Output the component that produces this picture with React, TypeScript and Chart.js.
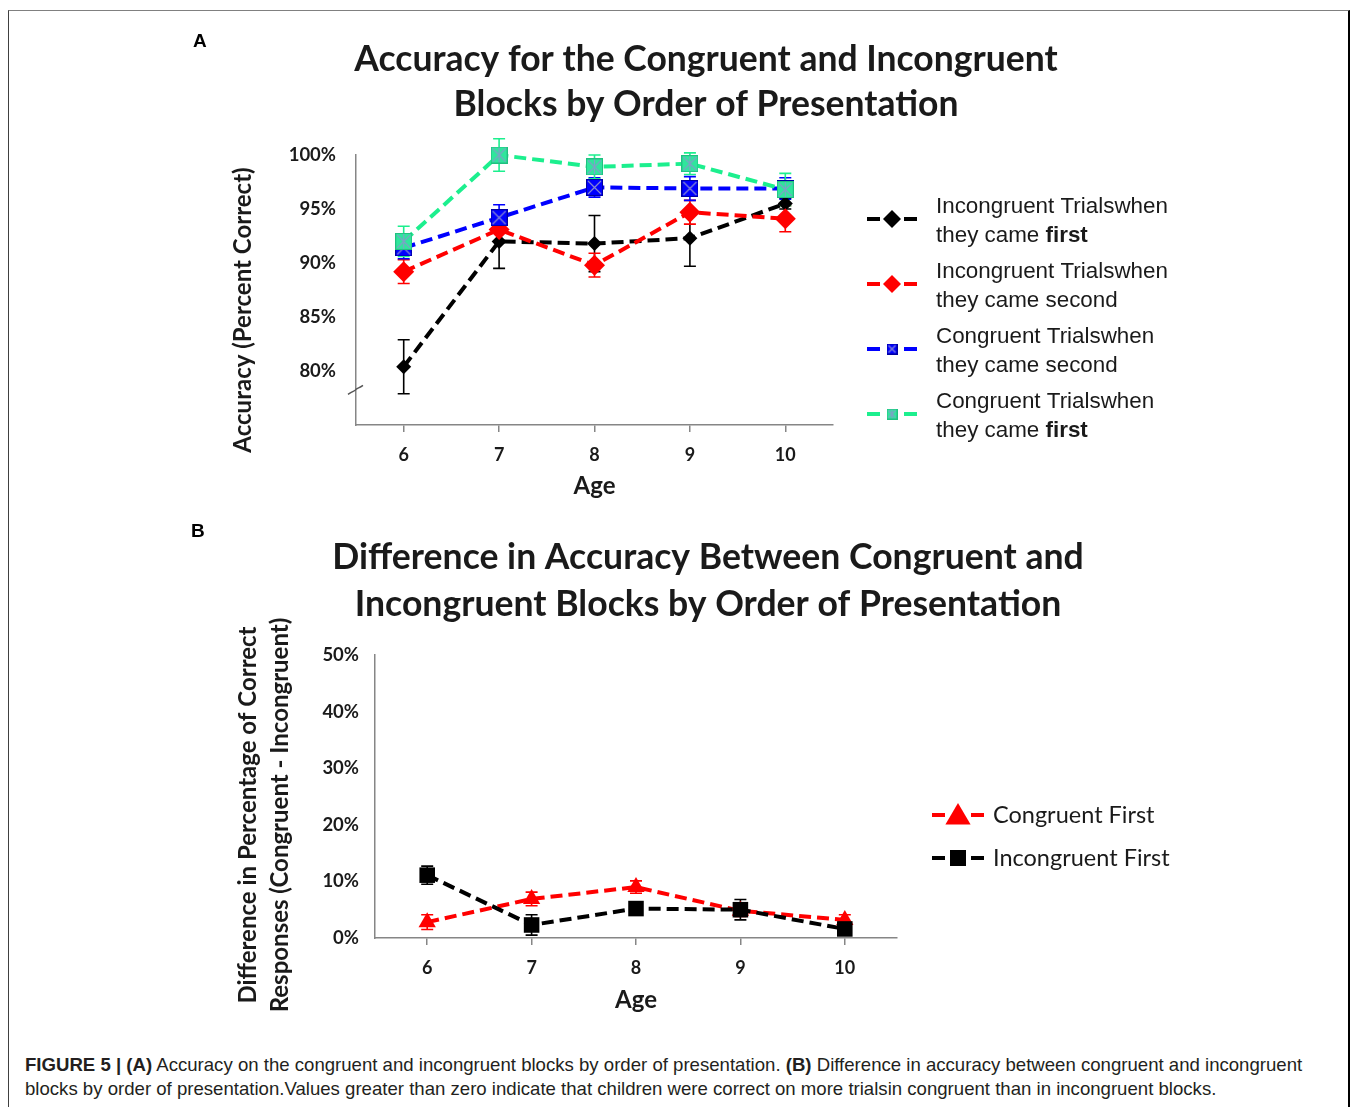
import React, { useEffect, useRef } from 'react';
import { Chart, registerables } from 'chart.js';

Chart.register(...registerables);

// ---------- Data ----------
const ages = ['6', '7', '8', '9', '10'];

// Panel A: accuracy (%)
const incongruentFirst = [80.4, 92.0, 91.8, 92.3, 95.5];
const incongruentFirstErr = [2.5, 2.5, 2.6, 2.6, 0.5];
const incongruentSecond = [89.2, 93.1, 89.8, 94.7, 94.1];
const incongruentSecondErr = [1.1, 1.1, 1.1, 1.1, 1.2];
const congruentSecond = [91.4, 94.2, 97.0, 96.9, 96.9];
const congruentSecondErr = [1.0, 1.2, 0.9, 1.1, 1.0];
const congruentFirst = [92.0, 100.0, 98.9, 99.2, 96.8];
const congruentFirstErr = [1.4, 1.5, 1.1, 1.0, 1.5];
const accuracyMin = 75;
const accuracyMax = 100;
const accuracyStep = 5;
const accuracyFirstLabel = 80;
const accuracyBreakAt = 78.3;

// Panel B: difference (%)
const diffCongruentFirst = [2.8, 6.9, 9.0, 4.8, 3.2];
const diffCongruentFirstErr = [1.3, 1.2, 1.1, 1.0, 0.9];
const diffIncongruentFirst = [11.1, 2.3, 5.2, 5.0, 1.6];
const diffIncongruentFirstErr = [1.6, 1.8, 1.0, 1.8, 1.0];
const diffMin = 0;
const diffMax = 50;
const diffStep = 10;

// Text
const titleA = ['Accuracy for the Congruent and Incongruent', 'Blocks by Order of Presentation'];
const titleB = ['Difference in Accuracy Between Congruent and', 'Incongruent Blocks by Order of Presentation'];
const yTitleA = ['Accuracy (Percent Correct)'];
const yTitleB = ['Difference in Percentage of Correct', 'Responses (Congruent - Incongruent)'];
const xTitle = 'Age';
const legendA = [
  [[{ t: 'Incongruent Trialswhen' }], [{ t: 'they came ' }, { t: 'first', b: true }]],
  [[{ t: 'Incongruent Trialswhen' }], [{ t: 'they came second' }]],
  [[{ t: 'Congruent Trialswhen' }], [{ t: 'they came second' }]],
  [[{ t: 'Congruent Trialswhen' }], [{ t: 'they came ' }, { t: 'first', b: true }]],
];
const legendB = [
  [[{ t: 'Congruent First' }]],
  [[{ t: 'Incongruent First' }]],
];

// ---------- Styles ----------
const BLACK = '#000000';
const RED = '#ff0000';
const BLUE = '#0000ff';
const GREEN = '#1cef8e';
const GREEN_FILL = '#2fe69c';
const AXIS = '#868686';
const TEXT = '#1a1a1a';
const CAL = 'Lato, "Open Sans", sans-serif';

function makeBoxMarker(size: number, fill: string, edge: string, cross: string, star: boolean) {
  const c = document.createElement('canvas');
  c.width = size;
  c.height = size;
  const g = c.getContext('2d')!;
  g.fillStyle = fill;
  g.fillRect(0, 0, size, size);
  g.strokeStyle = edge;
  g.lineWidth = 1;
  g.strokeRect(0.5, 0.5, size - 1, size - 1);
  g.strokeStyle = cross;
  g.lineWidth = 1.2;
  g.beginPath();
  g.moveTo(2, 2);
  g.lineTo(size - 2, size - 2);
  g.moveTo(size - 2, 2);
  g.lineTo(2, size - 2);
  if (star) {
    g.moveTo(size / 2, 1);
    g.lineTo(size / 2, size - 1);
  }
  g.stroke();
  return c;
}

// ---------- Plugins ----------
const errorBars = {
  id: 'errorBars',
  beforeDatasetsDraw(chart: any) {
    const ctx = chart.ctx;
    chart.data.datasets.forEach((ds: any, i: number) => {
      if (!ds.errors) return;
      const meta = chart.getDatasetMeta(i);
      const ys = chart.scales[meta.yAxisID];
      ctx.save();
      ctx.strokeStyle = ds.errorColor || ds.borderColor;
      ctx.lineWidth = 1.6;
      meta.data.forEach((pt: any, j: number) => {
        const v = ds.data[j];
        const e = ds.errors[j];
        const yt = ys.getPixelForValue(v + e);
        const yb = ys.getPixelForValue(v - e);
        const cap = ds.errorCap || 6;
        ctx.beginPath();
        ctx.moveTo(pt.x, yt);
        ctx.lineTo(pt.x, yb);
        ctx.moveTo(pt.x - cap, yt);
        ctx.lineTo(pt.x + cap, yt);
        ctx.moveTo(pt.x - cap, yb);
        ctx.lineTo(pt.x + cap, yb);
        ctx.stroke();
      });
      ctx.restore();
    });
  },
};

function drawMarker(ctx: CanvasRenderingContext2D, kind: any, x: number, y: number, r: number, color: string) {
  ctx.save();
  ctx.fillStyle = color;
  if (typeof kind !== 'string') {
    ctx.drawImage(kind, x - kind.width / 2, y - kind.height / 2);
  } else if (kind === 'diamond') {
    ctx.beginPath();
    ctx.moveTo(x, y - r);
    ctx.lineTo(x + r, y);
    ctx.lineTo(x, y + r);
    ctx.lineTo(x - r, y);
    ctx.closePath();
    ctx.fill();
  } else if (kind === 'triangle') {
    ctx.beginPath();
    ctx.moveTo(x, y - r);
    ctx.lineTo(x + r * 1.05, y + r * 0.8);
    ctx.lineTo(x - r * 1.05, y + r * 0.8);
    ctx.closePath();
    ctx.fill();
  } else if (kind === 'square') {
    ctx.fillRect(x - r, y - r, 2 * r, 2 * r);
  }
  ctx.restore();
}

const figureLegend = {
  id: 'figureLegend',
  afterDraw(chart: any, _a: any, opts: any) {
    if (!opts || !opts.items) return;
    const { ctx, chartArea } = chart;
    opts.items.forEach((item: any, k: number) => {
      const ds = chart.data.datasets[item.dataset];
      const cx = chartArea.right + opts.markerDx;
      const cy = chartArea.top + opts.rowY[k];
      ctx.save();
      ctx.strokeStyle = ds.borderColor;
      ctx.lineWidth = ds.borderWidth;
      ctx.beginPath();
      ctx.moveTo(cx - opts.segOuter, cy);
      ctx.lineTo(cx - opts.segInner, cy);
      ctx.moveTo(cx + opts.segInner, cy);
      ctx.lineTo(cx + opts.segOuter, cy);
      ctx.stroke();
      ctx.restore();
      drawMarker(ctx, item.marker, cx, cy, item.r, item.color);
      const lines = item.lines;
      const n = lines.length;
      lines.forEach((segs: any[], li: number) => {
        const ly = cy + (li - (n - 1) / 2) * opts.lineGap + opts.textDy;
        let x = chartArea.right + opts.textDx;
        segs.forEach((s: any) => {
          ctx.save();
          ctx.font = `${s.b ? 'bold ' : ''}${opts.fontSize}px ${opts.family}`;
          ctx.fillStyle = TEXT;
          ctx.textBaseline = 'middle';
          ctx.textAlign = 'left';
          ctx.fillText(s.t, x, ly);
          x += ctx.measureText(s.t).width;
          ctx.restore();
        });
      });
    });
  },
};

const yTitlePlugin = {
  id: 'yTitle',
  afterDraw(chart: any, _a: any, opts: any) {
    if (!opts || !opts.lines) return;
    const ctx = chart.ctx;
    ctx.save();
    ctx.translate(opts.x, opts.y);
    ctx.rotate(-Math.PI / 2);
    ctx.font = `bold ${opts.size}px ${CAL}`;
    ctx.fillStyle = TEXT;
    ctx.textAlign = 'center';
    ctx.textBaseline = 'middle';
    opts.lines.forEach((l: string, i: number) => ctx.fillText(l, 0, i * opts.gap));
    ctx.restore();
  },
};

const axisBreak = {
  id: 'axisBreak',
  afterDraw(chart: any, _a: any, opts: any) {
    if (!opts || opts.value == null) return;
    const ctx = chart.ctx;
    const x = chart.chartArea.left;
    const y = chart.scales.y.getPixelForValue(opts.value);
    ctx.save();
    ctx.strokeStyle = '#555';
    ctx.lineWidth = 1.4;
    ctx.beginPath();
    ctx.moveTo(x - 8, y + 5);
    ctx.bezierCurveTo(x - 3, y + 1, x - 1, y + 2, x, y);
    ctx.bezierCurveTo(x + 2, y - 2, x + 3, y - 1, x + 7, y - 4);
    ctx.stroke();
    ctx.restore();
  },
};

function baseLine(label: string, data: number[], errs: number[], color: string, extra: any) {
  return {
    label,
    data,
    errors: errs,
    errorColor: color,
    borderColor: color,
    backgroundColor: color,
    borderWidth: 4,
    borderDash: [12, 6],
    pointBackgroundColor: color,
    pointBorderColor: color,
    pointBorderWidth: 0,
    pointHoverRadius: 0,
    tension: 0,
    clip: false,
    ...extra,
  };
}

function xScale(height: number, titleBottom: number, pad: number) {
  return {
    type: 'category',
    offset: true,
    grid: { display: true, drawOnChartArea: false, drawTicks: true, tickLength: 7, color: AXIS, lineWidth: 1.5, offset: false },
    border: { display: true, color: AXIS, width: 1.5 },
    ticks: { padding: pad, color: TEXT, font: { family: CAL, size: 18, weight: 'bold' } },
    title: { display: true, text: xTitle, color: TEXT, font: { family: CAL, size: 24, weight: 'bold' }, padding: { top: 0, bottom: titleBottom } },
    afterFit: (s: any) => { s.height = height; },
  };
}

function rightSpacer(width: number) {
  return {
    type: 'linear',
    position: 'right',
    display: true,
    grid: { display: false },
    border: { display: false },
    ticks: { display: false },
    afterFit: (s: any) => { s.width = width; },
  };
}

export default function App() {
  const refA = useRef<HTMLCanvasElement>(null);
  const refB = useRef<HTMLCanvasElement>(null);

  useEffect(() => {
    const blueBox = makeBoxMarker(17, BLUE, '#0000a0', '#8a8ad0', false);
    const greenBox = makeBoxMarker(17, GREEN_FILL, '#20c080', '#7fa0c8', true);
    const blueBoxSmall = makeBoxMarker(11, BLUE, '#0000a0', '#8a8ad0', false);
    const greenBoxSmall = makeBoxMarker(11, GREEN_FILL, '#20c080', '#7fa0c8', true);

    const chartA = new Chart(refA.current!, {
      type: 'line',
      data: {
        labels: ages,
        datasets: [
          baseLine('Incongruent Trials when they came first', incongruentFirst, incongruentFirstErr, BLACK, { pointStyle: 'rectRot', pointRadius: 7.5, order: 4 }),
          baseLine('Incongruent Trials when they came second', incongruentSecond, incongruentSecondErr, RED, { pointStyle: 'rectRot', pointRadius: 10.5, order: 3 }),
          baseLine('Congruent Trials when they came second', congruentSecond, congruentSecondErr, BLUE, { pointStyle: blueBox, pointRadius: 8, order: 2 }),
          baseLine('Congruent Trials when they came first', congruentFirst, congruentFirstErr, GREEN, { pointStyle: greenBox, pointRadius: 8, order: 1 }),
        ] as any,
      },
      options: {
        responsive: false,
        animation: false,
        devicePixelRatio: 1,
        layout: { padding: 0 },
        scales: {
          x: xScale(85, 9, 12) as any,
          y: {
            min: accuracyMin,
            max: accuracyMax,
            grid: { display: false },
            border: { display: true, color: AXIS, width: 1.5 },
            ticks: {
              stepSize: accuracyStep,
              padding: 12,
              color: TEXT,
              font: { family: CAL, size: 18.5, weight: 'bold' },
              callback: (v: any) => (v >= accuracyFirstLabel ? `${v}%` : ''),
            },
            afterFit: (s: any) => { s.width = 176; },
          } as any,
          pad: rightSpacer(399) as any,
        },
        plugins: {
          legend: { display: false },
          tooltip: { enabled: false },
          title: {
            display: true,
            text: titleA,
            color: TEXT,
            font: { family: CAL, size: 35.5, weight: 'bold', lineHeight: 45 / 35.5 },
            padding: { top: 17.5, bottom: 27.5 },
          },
          yTitle: { lines: yTitleA, x: 63, y: 310 - 20, size: 24, gap: 32 },
          axisBreak: { value: accuracyBreakAt },
          figureLegend: {
            markerDx: 59,
            segOuter: 25,
            segInner: 12,
            textDx: 103,
            textDy: 2,
            lineGap: 29,
            fontSize: 22.4,
            family: '"Liberation Sans", Arial, sans-serif',
            rowY: [64, 129, 194, 259],
            items: [
              { dataset: 0, marker: 'diamond', r: 9, color: BLACK, lines: legendA[0] },
              { dataset: 1, marker: 'diamond', r: 9, color: RED, lines: legendA[1] },
              { dataset: 2, marker: blueBoxSmall, r: 6, color: BLUE, lines: legendA[2] },
              { dataset: 3, marker: greenBoxSmall, r: 6, color: GREEN, lines: legendA[3] },
            ],
          },
        } as any,
      },
      plugins: [errorBars, yTitlePlugin, axisBreak, figureLegend],
    } as any);

    const chartB = new Chart(refB.current!, {
      type: 'line',
      data: {
        labels: ages,
        datasets: [
          baseLine('Congruent First', diffCongruentFirst, diffCongruentFirstErr, RED, { pointStyle: 'triangle', pointRadius: 10, order: 2 }),
          baseLine('Incongruent First', diffIncongruentFirst, diffIncongruentFirstErr, BLACK, { pointStyle: 'rect', pointRadius: 11, order: 1 }),
        ] as any,
      },
      options: {
        responsive: false,
        animation: false,
        devicePixelRatio: 1,
        layout: { padding: 0 },
        scales: {
          x: xScale(102, 25, 12) as any,
          y: {
            min: diffMin,
            max: diffMax,
            grid: { display: false },
            border: { display: true, color: AXIS, width: 1.5 },
            ticks: {
              stepSize: diffStep,
              padding: 8,
              color: TEXT,
              font: { family: CAL, size: 18.5, weight: 'bold' },
              callback: (v: any) => `${v}%`,
            },
            afterFit: (s: any) => { s.width = 195; },
          } as any,
          pad: rightSpacer(339) as any,
        },
        plugins: {
          legend: { display: false },
          tooltip: { enabled: false },
          title: {
            display: true,
            text: titleB,
            color: TEXT,
            font: { family: CAL, size: 35.6, weight: 'bold', lineHeight: 47 / 35.6 },
            padding: { top: 19.5, bottom: 26.5 },
          },
          yTitle: { lines: yTitleB, x: 68, y: 300, size: 24, gap: 32 },
          figureLegend: {
            markerDx: 61,
            segOuter: 26,
            segInner: 13,
            textDx: 96,
            textDy: 0,
            lineGap: 0,
            fontSize: 23.5,
            family: CAL,
            rowY: [160, 203],
            items: [
              { dataset: 0, marker: 'triangle', r: 12, color: RED, lines: legendB[0] },
              { dataset: 1, marker: 'square', r: 8, color: BLACK, lines: legendB[1] },
            ],
          },
        } as any,
      },
      plugins: [errorBars, yTitlePlugin, figureLegend],
    } as any);

    return () => {
      chartA.destroy();
      chartB.destroy();
    };
  }, []);

  // figure box origin in page coords: left 8 + 1px border, top 10 + 1px border
  const ox = 9;
  const oy = 11;
  return (
    <div
      style={{
        position: 'fixed',
        left: 8,
        top: 10,
        width: 1342,
        height: 1120,
        boxSizing: 'border-box',
        borderTop: '1px solid #808080',
        borderLeft: '1px solid #404040',
        borderRight: '2px solid #000',
        background: '#fff',
      }}
    >
      <canvas ref={refA} width={1052} height={490} style={{ position: 'absolute', left: 180 - ox, top: 20 - oy }} />
      <canvas ref={refB} width={1056} height={525} style={{ position: 'absolute', left: 180 - ox, top: 515 - oy }} />
      <div style={{ position: 'absolute', left: 193 - ox, top: 30 - oy, font: 'bold 19px "Liberation Sans", Arial, sans-serif', lineHeight: '22px', color: '#000' }}>A</div>
      <div style={{ position: 'absolute', left: 191 - ox, top: 520 - oy, font: 'bold 19px "Liberation Sans", Arial, sans-serif', lineHeight: '22px', color: '#000' }}>B</div>
      <div
        style={{
          position: 'absolute',
          left: 25 - ox,
          top: 1053 - oy,
          font: '18.6px "Liberation Sans", Arial, sans-serif',
          lineHeight: '24px',
          color: '#231f20',
          whiteSpace: 'nowrap',
        }}
      >
        <b>FIGURE 5 | (A)</b> Accuracy on the congruent and incongruent blocks by order of presentation. <b>(B)</b> Difference in accuracy between congruent and incongruent
        <br />
        blocks by order of presentation.Values greater than zero indicate that children were correct on more trialsin congruent than in incongruent blocks.
      </div>
    </div>
  );
}
